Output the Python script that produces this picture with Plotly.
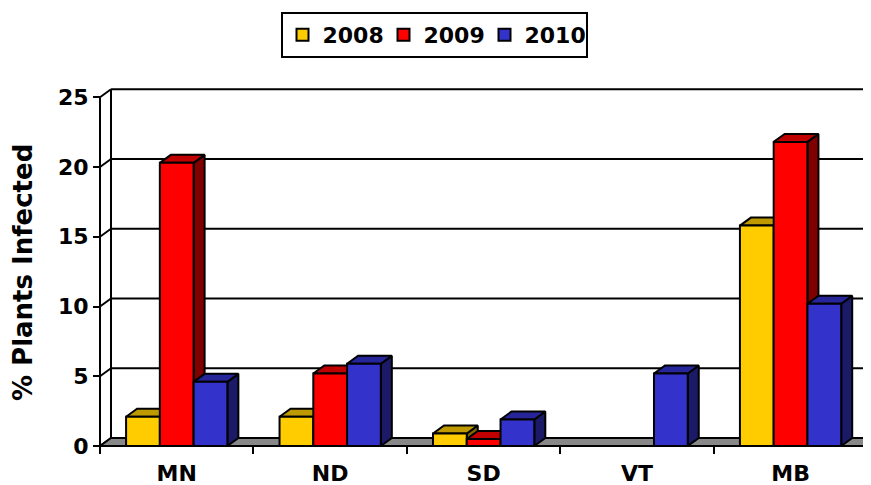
import plotly.graph_objects as go

# ---- data ----
categories = ["MN", "ND", "SD", "VT", "MB"]
years = ["2008", "2009", "2010"]
v2008 = [2.1, 2.1, 0.9, 0.0, 15.8]
v2009 = [20.3, 5.2, 0.5, 0.0, 21.8]
v2010 = [4.6, 5.9, 1.9, 5.2, 10.2]
y_ticks = [0, 5, 10, 15, 20, 25]
y_title = "% Plants Infected"

series = [v2008, v2009, v2010]
front_colors = ["#FFCC00", "#FF0000", "#3333CC"]
top_colors = ["#BF9900", "#C00000", "#26269A"]
side_colors = ["#806600", "#800000", "#1A1A66"]

# ---- geometry (pixels -> data units) ----
OFF = 8                # page body margin compensation
W, H = 871 - OFF, 485
ML, MR, MT, MB_ = 72, 0, 62, 33
PXX = 153.46           # px per category
PXY = 13.948           # px per value unit
X0PX, Y0PX = 100 - OFF, 446 - OFF  # pixel of (0,0) on the front plane
PW, PH = W - ML - MR, H - MT - MB_
xr = [(ML - X0PX) / PXX, (W - MR - X0PX) / PXX]
yr = [(Y0PX - (H - MB_)) / PXY, (Y0PX - MT) / PXY]
DX, DY = 11 / PXX, 8 / PXY  # depth offset
GAP, BW = 0.17, 0.22
LW = 2
ncat = len(categories)
ymax = y_ticks[-1]

fig = go.Figure()

def poly(xs, ys, fill, lw=LW):
    fig.add_trace(go.Scatter(x=xs + [xs[0]], y=ys + [ys[0]], mode="lines",
                             fill="toself", fillcolor=fill,
                             line=dict(color="black", width=lw),
                             showlegend=False, hoverinfo="skip"))

def lines(segs, lw=LW):
    xs, ys = [], []
    for (a, b, c, d) in segs:
        xs += [a, c, None]
        ys += [b, d, None]
    fig.add_trace(go.Scatter(x=xs, y=ys, mode="lines",
                             line=dict(color="black", width=lw),
                             showlegend=False, hoverinfo="skip"))

# back wall gridlines
lines([(DX, v + DY, ncat + DX, v + DY) for v in y_ticks[1:]])
# left wall: back vertical + diagonals
lines([(DX, DY, DX, ymax + DY)] + [(0, v, DX, v + DY) for v in y_ticks])
# floor
poly([0, ncat, ncat + DX, DX], [0, 0, DY, DY], "#888888")

# bars, drawn left to right
for ci in range(ncat):
    for si, vals in enumerate(series):
        h = vals[ci]
        if h <= 0:
            continue
        x0 = ci + GAP + si * BW
        x1 = x0 + BW
        poly([x1, x1 + DX, x1 + DX, x1], [0, DY, h + DY, h], side_colors[si])
        poly([x0, x1, x1 + DX, x0 + DX], [h, h, h + DY, h + DY], top_colors[si])
        poly([x0, x1, x1, x0], [0, 0, h, h], front_colors[si])

# front value axis line
lines([(0, 0, 0, ymax)])

# legend entries
for si, yname in enumerate(years):
    fig.add_trace(go.Bar(x=[None], y=[None], name=yname,
                         marker=dict(color=front_colors[si],
                                     line=dict(color="black", width=2))))

# helper trace for the tick-mark axis
fig.add_trace(go.Scatter(x=[0], y=[None], xaxis="x2", mode="lines",
                         showlegend=False, hoverinfo="skip"))

pos_x = ((H - MB_) - Y0PX) / PH
pos_y = (X0PX - ML) / PW

fig.update_layout(
    width=W, height=H,
    margin=dict(l=ML, r=MR, t=MT, b=MB_, autoexpand=False),
    paper_bgcolor="white", plot_bgcolor="white",
    font=dict(family="DejaVu Sans", size=22, color="black", weight="bold"),
    hovermode=False,
    xaxis=dict(range=xr, anchor="free", position=pos_x, automargin=False,
               tickvals=[i + 0.5 for i in range(ncat)], ticktext=categories,
               ticks="", showgrid=False, zeroline=False, showline=False,
               ticklabelstandoff=12),
    xaxis2=dict(range=xr, overlaying="x", anchor="free", position=pos_x,
                automargin=False,
                tickvals=list(range(ncat + 1)), ticks="outside", ticklen=7,
                tickwidth=2, tickcolor="black", showticklabels=False,
                showgrid=False, zeroline=False, showline=False),
    yaxis=dict(range=yr, anchor="free", position=pos_y, automargin=False,
               tickvals=y_ticks, ticks="outside", ticklen=7, tickwidth=2,
               tickcolor="black", showgrid=False, zeroline=False,
               showline=False),
    legend=dict(orientation="h", xanchor="center", yanchor="top",
                x=(434 - OFF - ML) / PW,
                y=((H - MB_) - (12 - OFF)) / PH,
                bordercolor="black", borderwidth=2,
                entrywidth=56, itemwidth=30,
                font=dict(size=22)),
    showlegend=True,
    annotations=[dict(text=y_title, textangle=-90, xref="paper", yref="paper",
                      x=(23 - OFF - ML) / PW,
                      y=((H - MB_) - (273 - OFF)) / PH,
                      xanchor="center", yanchor="middle",
                      showarrow=False, font=dict(size=26))],
)

fig.write_html("out.html")
